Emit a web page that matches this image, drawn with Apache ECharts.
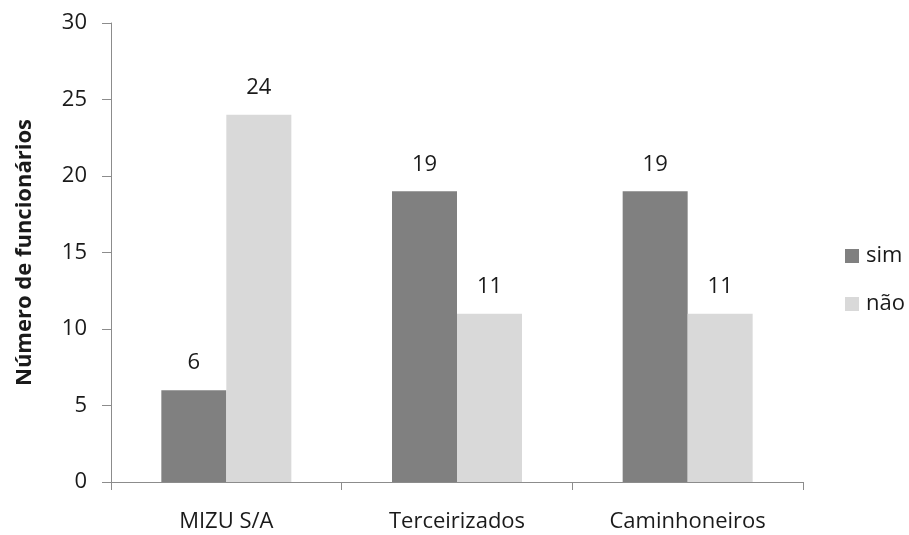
<!DOCTYPE html>
<html>
<head>
<meta charset="utf-8">
<script src="https://cdn.jsdelivr.net/npm/echarts@6/dist/echarts.min.js"></script>
<style>
  html, body { margin: 0; padding: 0; background: #fff; }
  #chart { width: 909px; height: 535px; }
</style>
</head>
<body>
<div id="chart"></div>
<script>
// Survey answers per group of workers
const categories = ['MIZU S/A', 'Terceirizados', 'Caminhoneiros'];
const simValues = [6, 19, 19];
const naoValues = [24, 11, 11];
const yTicks = { min: 0, max: 30, interval: 5 };

const FONT = '"Open Sans", sans-serif';
const TEXT = '#1a1a1a';
const AXIS = '#8c8c8c';
const FS = 22;

const chart = echarts.init(document.getElementById('chart'), null, { renderer: 'canvas' });

const labelStyle = {
  show: true,
  position: 'top',
  distance: 16,
  color: TEXT,
  fontFamily: FONT,
  fontSize: FS
};

chart.setOption({
  animation: false,
  backgroundColor: '#ffffff',
  textStyle: { fontFamily: FONT },
  grid: { left: 111, right: 106, top: 23, bottom: 53, containLabel: false },
  legend: {
    orient: 'vertical',
    left: 840,
    top: 240,
    itemWidth: 14,
    itemHeight: 14,
    itemGap: 26,
    icon: 'rect',
    textStyle: { color: TEXT, fontFamily: FONT, fontSize: FS, padding: [0, 0, 0, 2] },
    data: ['sim', 'não']
  },
  xAxis: {
    type: 'category',
    data: categories,
    axisLine: { lineStyle: { color: AXIS, width: 1 } },
    axisTick: { show: true, alignWithLabel: false, length: 8, lineStyle: { color: AXIS } },
    axisLabel: { color: TEXT, fontFamily: FONT, fontSize: FS, margin: 29 }
  },
  yAxis: {
    type: 'value',
    min: yTicks.min,
    max: yTicks.max,
    interval: yTicks.interval,
    name: 'Número de funcionários',
    nameLocation: 'middle',
    nameGap: 75,
    nameTextStyle: { color: TEXT, fontFamily: FONT, fontSize: FS, fontWeight: 'bold' },
    axisLine: { show: true, lineStyle: { color: AXIS, width: 1 } },
    axisTick: { show: true, length: 9, lineStyle: { color: AXIS } },
    splitLine: { show: false },
    axisLabel: { color: TEXT, fontFamily: FONT, fontSize: FS, margin: 24 }
  },
  series: [
    {
      name: 'sim',
      type: 'bar',
      data: simValues,
      barWidth: 65,
      barGap: '0%',
      itemStyle: { color: '#808080' },
      label: labelStyle
    },
    {
      name: 'não',
      type: 'bar',
      data: naoValues,
      barWidth: 65,
      barGap: '0%',
      itemStyle: { color: '#d9d9d9' },
      label: labelStyle
    }
  ]
});
</script>
</body>
</html>
